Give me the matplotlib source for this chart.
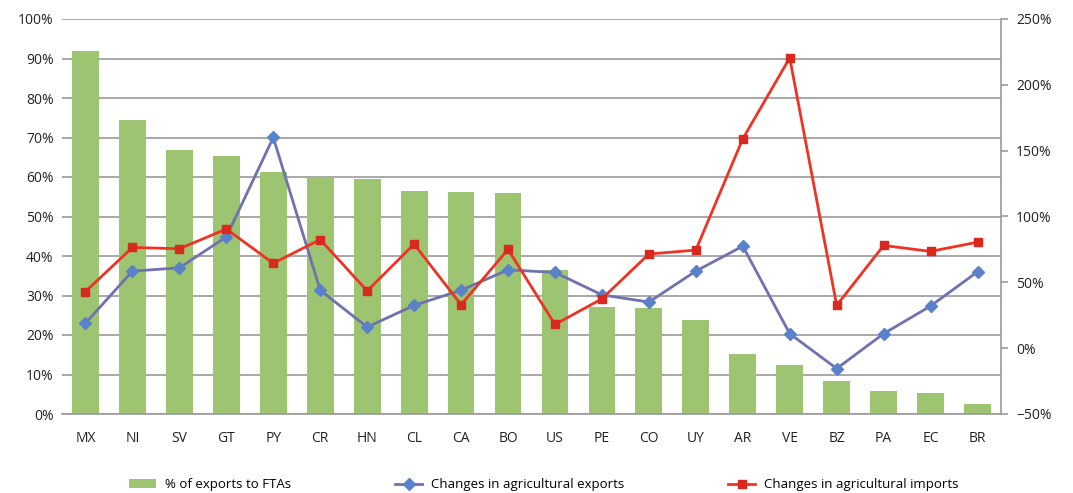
import numpy as np
import matplotlib.pyplot as plt
from matplotlib.ticker import PercentFormatter

plt.rcParams['font.family'] = ['Open Sans', 'DejaVu Sans']

# datos
paises = ['MX', 'NI', 'SV', 'GT', 'PY', 'CR', 'HN', 'CL', 'CA', 'BO',
          'US', 'PE', 'CO', 'UY', 'AR', 'VE', 'BZ', 'PA', 'EC', 'BR']
export_fta = [91.9, 74.4, 66.8, 65.3, 61.3, 60.1, 59.6, 56.4, 56.3, 55.9,
              36.5, 27.1, 26.9, 23.8, 15.2, 12.4, 8.4, 5.8, 5.3, 2.5]
cambio_export = [19, 58.5, 61, 84.5, 160, 44, 16, 32.5, 44, 59.5,
                 57.5, 40.5, 35, 58.5, 77.5, 11, -15.5, 11, 32, 58]
cambio_import = [43, 76.5, 75.5, 90.5, 64.5, 82.5, 43.5, 79, 33, 75,
                 18, 37.5, 71.5, 74.5, 159, 220.5, 32.5, 78, 73.5, 80.5]

x = np.arange(len(paises))

fig = plt.figure(figsize=(10.73, 4.93), dpi=100)
ax = fig.add_axes([62 / 1073, 1 - 414 / 493, (1001 - 62) / 1073, (414 - 19) / 493])

ax.bar(x, export_fta, width=0.57, color='#9DC470', zorder=2, label='% of exports to FTAs')
ax.set_ylim(0, 100)
ax.set_xlim(-0.5, len(paises) - 0.5)
ax.set_yticks(np.arange(0, 101, 10))
ax.yaxis.set_major_formatter(PercentFormatter(decimals=0))
ax.set_xticks(x)
ax.set_xticklabels(paises)
ax.grid(axis='y', color='#9a9a9a', linewidth=1.2, zorder=0)
ax.set_axisbelow(True)
for s in ['left', 'top', 'right']:
    ax.spines[s].set_visible(False)
ax.spines['bottom'].set_color('#9a9a9a')
ax.spines['bottom'].set_linewidth(1.2)
ax.tick_params(axis='both', length=0, labelsize=10, colors='#222222')
ax.tick_params(axis='x', pad=12)
ax.tick_params(axis='y', pad=6)

ax2 = ax.twinx()
l1, = ax2.plot(x, cambio_export, color='#6F71B0', linewidth=2, marker='D', markersize=6,
               markerfacecolor='#5A82CA', markeredgecolor='#5A82CA', zorder=3,
               label='Changes in agricultural exports')
l2, = ax2.plot(x, cambio_import, color='#EE3324', linewidth=2, marker='s', markersize=6,
               markerfacecolor='#D9281E', markeredgecolor='#D9281E', zorder=4,
               label='Changes in agricultural imports')
ax2.set_ylim(-50, 250)
ax2.set_yticks(np.arange(-50, 251, 50))
ax2.yaxis.set_major_formatter(PercentFormatter(decimals=0))
for s in ['left', 'top', 'bottom']:
    ax2.spines[s].set_visible(False)
ax2.spines['right'].set_color('#9a9a9a')
ax2.spines['right'].set_linewidth(1.2)
ax2.tick_params(axis='y', length=5, width=1.2, color='#9a9a9a', labelsize=10,
                colors='#222222', pad=6)
ax2.tick_params(axis='y', color='#9a9a9a')

h1, lab1 = ax.get_legend_handles_labels()
fig.legend(h1 + [l1, l2], lab1 + [l1.get_label(), l2.get_label()],
           loc='center', bbox_to_anchor=(0.507, 0.017), ncol=3, frameon=False,
           fontsize=9.5, columnspacing=7.9, handlelength=2.0, handletextpad=0.7)

plt.savefig('out.png', dpi=100)
